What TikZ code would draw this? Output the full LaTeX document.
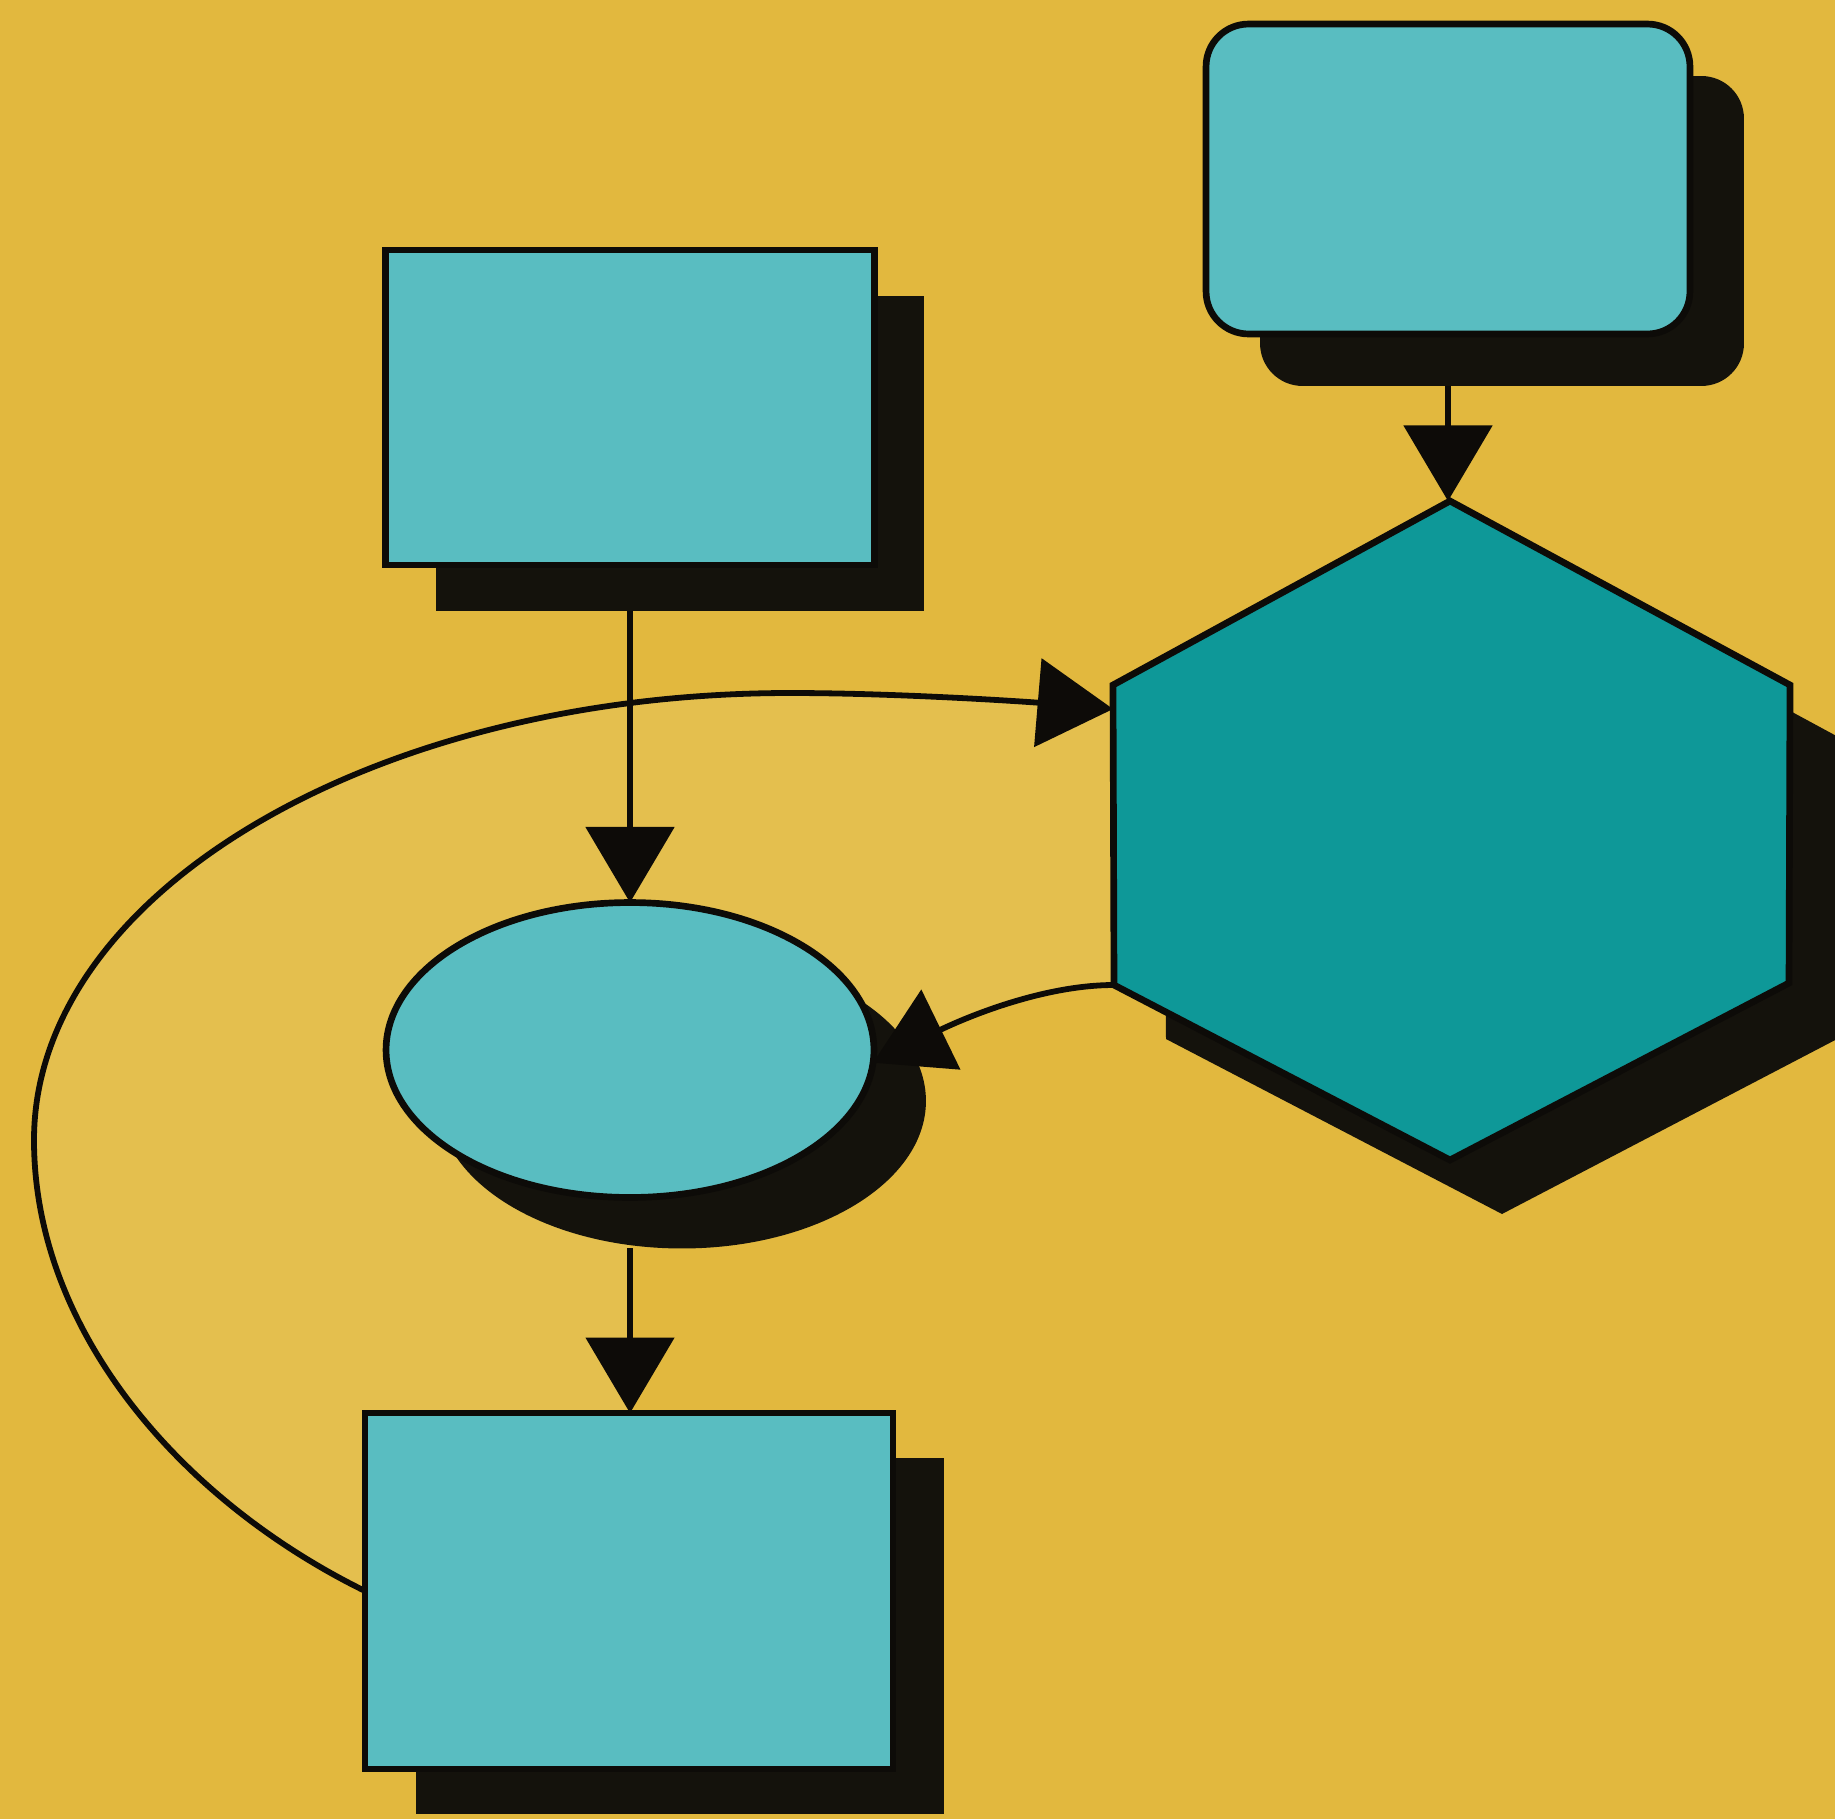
\documentclass[tikz,border=0pt]{standalone}
\usetikzlibrary{arrows.meta,shadows,backgrounds,calc,shapes.geometric}
\definecolor{bgyellow}{HTML}{E2B83E}
\definecolor{bandyellow}{HTML}{E4BF4E}
\definecolor{paleteal}{HTML}{59BDC1}
\definecolor{deepteal}{HTML}{0E9898}
\definecolor{ink}{HTML}{0D0B08}
\definecolor{castblack}{HTML}{14120C}
\begin{document}
\begin{tikzpicture}[x=0.02cm, y=-0.02cm,
  box/.style={draw=ink, line width=3.8pt, fill=paleteal, inner sep=0pt, outer sep=0pt},
  casts/.style 2 args={drop shadow={shadow xshift=#1, shadow yshift=#2, fill=castblack, opacity=1}},
  flow/.style={draw=ink, line width=3.3pt, -{Triangle[width=50pt,length=43pt]}},
]
\useasboundingbox (0,0) rectangle (1835,1819);

% hexagon corners
\coordinate (hexc) at (1450,831);
\coordinate (hT)  at ($(hexc)+(0,-330)$);
\coordinate (hUR) at ($(hexc)+(340,-146)$);
\coordinate (hLR) at ($(hexc)+(339,152)$);
\coordinate (hB)  at ($(hexc)+(0,329)$);
\coordinate (hLL) at ($(hexc)+(-336,154)$);
\coordinate (hUL) at ($(hexc)+(-337,-146)$);
\coordinate (hA)  at ($(hUL)!0.08!(hLL)$);

% hexagon with its shadow
\fill[castblack, transform canvas={xshift=1.04cm, yshift=-1.08cm}]
  (hT) -- (hUR) -- (hLR) -- (hB) -- (hLL) -- (hUL) -- cycle;
\draw[ink, line width=3.8pt, fill=deepteal, line join=miter]
  (hT) -- (hUR) -- (hLR) -- (hB) -- (hLL) -- (hUL) -- cycle;

% boxes
\node[box, casts={1.0cm}{-0.92cm}, minimum width=9.78cm, minimum height=6.3cm] (tl) at (630,407.5) {};
\node[box, casts={1.08cm}{-1.04cm}, rounded corners=0.85cm, minimum width=9.68cm, minimum height=6.2cm] (rr) at (1448,179) {};
\node[box, casts={1.02cm}{-0.9cm}, minimum width=10.56cm, minimum height=7.12cm] (br) at (629,1591) {};
\node[box, ellipse, casts={1.04cm}{-1.02cm}, minimum width=9.76cm, minimum height=5.9cm] (ell) at (630,1050) {};

% points of the outer loop
\coordinate (lw) at (34,1140);
\coordinate (lt) at (790,693);

% light band behind the loop
\begin{scope}[on background layer]
  \fill[bgyellow] (0,0) rectangle (1835,1819);
  \fill[bandyellow] (br.west) .. controls (180,1500) and (34,1330) .. (lw)
      .. controls (34,893) and (373,693) .. (lt)
      .. controls (900,693) and (1030,702) .. (hA)
    -- (hLL) .. controls (1030,985) and (940,1030) .. (ell.-3)
    -- (630,1100) -- (630,1591) -- cycle;
\end{scope}

% connectors
\coordinate (tls) at ($(tl.south)+(0,46)$);
\coordinate (ells) at ($(ell.south)+(0,51)$);
\coordinate (rrs) at ($(rr.south)+(0,52)$);
\draw[flow] (tls) -- (ell.north);
\draw[flow] (ells) -- (ells |- br.north);
\draw[flow] (rrs) -- (rrs |- hT);
\draw[flow] (br.west) .. controls (180,1500) and (34,1330) .. (lw)
      .. controls (34,893) and (373,693) .. (lt)
      .. controls (900,693) and (1030,702) .. (hA);
\draw[flow] (hLL) .. controls (1030,985) and (940,1030) .. (ell.-3);
\end{tikzpicture}
\end{document}
